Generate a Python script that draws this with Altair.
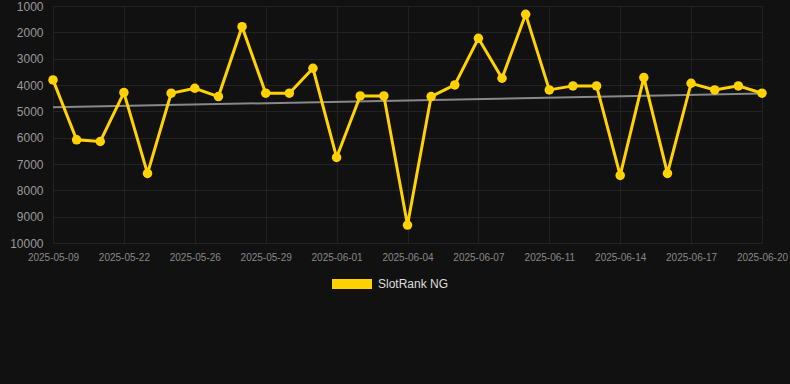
import altair as alt
import pandas as pd

dates = [
    "2025-05-09", "2025-05-13", "2025-05-20", "2025-05-22", "2025-05-23", "2025-05-24",
    "2025-05-26", "2025-05-27", "2025-05-28", "2025-05-29", "2025-05-30", "2025-05-31",
    "2025-06-01", "2025-06-02", "2025-06-03", "2025-06-04", "2025-06-05", "2025-06-06",
    "2025-06-07", "2025-06-09", "2025-06-10", "2025-06-11", "2025-06-12", "2025-06-13",
    "2025-06-14", "2025-06-15", "2025-06-16", "2025-06-17", "2025-06-18", "2025-06-19",
    "2025-06-20",
]
ranks = [
    3807, 6080, 6145, 4287, 7359, 4312, 4123, 4439, 1784, 4312, 4312, 3364,
    6752, 4413, 4413, 9318, 4439, 3996, 2226, 3743, 1316, 4186, 4034, 4034,
    7435, 3718, 7359, 3933, 4186, 4034, 4312,
]
series_name = "SlotRank NG"
y_ticks = [1000, 2000, 3000, 4000, 5000, 6000, 7000, 8000, 9000, 10000]

df = pd.DataFrame({"idx": list(range(len(dates))), "date": dates, "rank": ranks, "series": series_name})

label_js = "[" + ",".join("'" + d + "'" for d in dates) + "][datum.value]"

x_enc = alt.X(
    "idx:Q",
    scale=alt.Scale(domain=[0, len(dates) - 1], nice=False, zero=False),
    axis=alt.Axis(
        values=list(range(0, len(dates), 3)),
        labelExpr=label_js,
        title=None,
        grid=True,
        gridColor="#222222",
        domain=False,
        ticks=False,
        labelColor="#888888",
        labelFontSize=10,
        labelPadding=9,
        labelFont="Liberation Sans",
        labelOverlap=False,
        labelFlush=False,
        labelBound=False,
    ),
)
y_enc = alt.Y(
    "rank:Q",
    scale=alt.Scale(domain=[1000, 10000], reverse=True, nice=False, zero=False),
    axis=alt.Axis(
        values=y_ticks,
        format="d",
        title=None,
        grid=True,
        gridColor="#222222",
        domain=False,
        ticks=False,
        labelColor="#999999",
        labelFontSize=12,
        labelPadding=10,
        labelFont="Liberation Sans",
        labelOverlap=False,
        labelFlush=False,
        labelBound=False,
    ),
)

base = alt.Chart(df)

trend = base.transform_regression("idx", "rank").mark_line(
    color="#888888", strokeWidth=2
).encode(x=x_enc, y=y_enc)

line = base.mark_line(color="#FFD200", strokeWidth=3).encode(x=x_enc, y=y_enc)

points = base.mark_point(filled=True, size=90, opacity=1).encode(
    x=x_enc,
    y=y_enc,
    color=alt.Color(
        "series:N",
        scale=alt.Scale(range=["#FFD200"]),
        legend=alt.Legend(
            title=None,
            orient="none",
            legendX=289,
            legendY=268,
            symbolType="M-2,-0.5H2V0.5H-2Z",
            symbolSize=400,
            symbolStrokeWidth=0,
            symbolOpacity=1,
            labelColor="#dddddd",
            labelFontSize=12,
            labelFont="Liberation Sans",
            labelOffset=16,
            padding=0,
        ),
    ),
)

chart = (
    alt.layer(trend, line, points)
    .properties(
        width=709,
        height=237,
        background="#111111",
        padding={"left": 53, "top": 6, "right": 28, "bottom": 141},
        autosize=alt.AutoSizeParams(type="none"),
    )
    .configure_view(stroke=None)
)

chart.save("out.html", embed_options={"renderer": "svg", "actions": False})
